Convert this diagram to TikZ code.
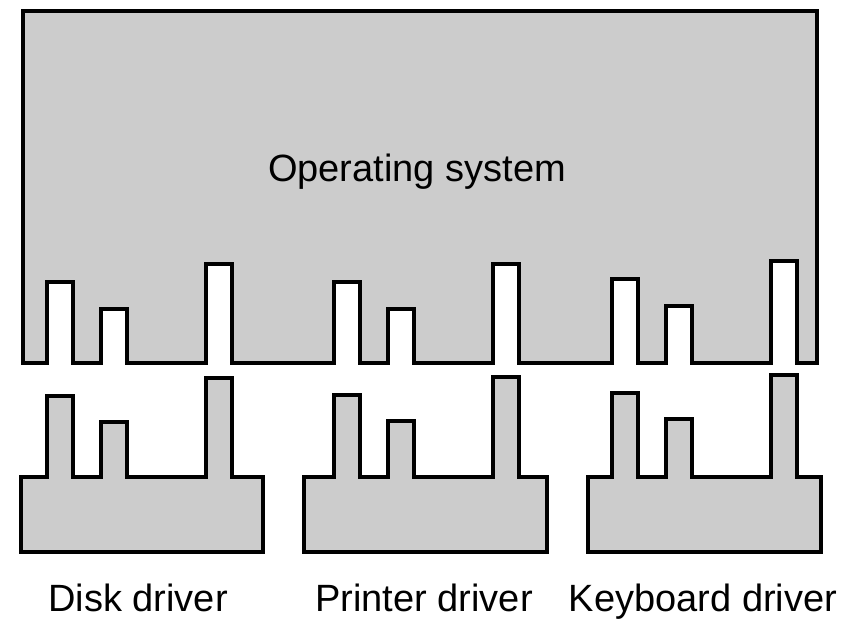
\documentclass[tikz,border=0pt]{standalone}
\usepackage{fontspec}
\setmainfont{Liberation Sans}
\definecolor{partgray}{gray}{0.8}
\tikzset{part/.style={fill=partgray, draw=black, line width=1.6pt, line join=miter},
         lbl/.style={anchor=base, inner sep=0pt, font=\fontsize{19}{22}\selectfont}}

\begin{document}
\begin{tikzpicture}[x=0.5pt, y=-0.5pt]
     \useasboundingbox (0,0) rectangle (843,619);

     % operating system with three sets of slots
     \draw[part] (23,11) -- (23,363)
        \foreach \dx/\dy in {0/0, 287/0, 565/-3} {
          -- ({47+\dx},363) -- ({47+\dx},{282+\dy}) -- ({73+\dx},{282+\dy}) -- ({73+\dx},363)
          -- ({101+\dx},363) -- ({101+\dx},{309+\dy}) -- ({127+\dx},{309+\dy}) -- ({127+\dx},363)
          -- ({206+\dx},363) -- ({206+\dx},{264+\dy}) -- ({232+\dx},{264+\dy}) -- ({232+\dx},363)
        }
        -- (817,363) -- (817,11) -- cycle;
     \node[lbl] (os) at (417,182) {Operating system};

     % drivers that plug in underneath
     \foreach \dx/\dy/\l/\r/\c/\name/\txt in {0/0/21/263/138/disk/Disk driver,
                                             287/-1/304/547/424/printer/Printer driver,
                                             565/-3/588/821/703/keyboard/Keyboard driver} {
       \draw[part] (\l,552) -- (\l,477)
          -- ({47+\dx},477) -- ({47+\dx},{396+\dy}) -- ({73+\dx},{396+\dy}) -- ({73+\dx},477)
          -- ({101+\dx},477) -- ({101+\dx},{422+\dy}) -- ({127+\dx},{422+\dy}) -- ({127+\dx},477)
          -- ({206+\dx},477) -- ({206+\dx},{378+\dy}) -- ({232+\dx},{378+\dy}) -- ({232+\dx},477)
          -- (\r,477) -- (\r,552) -- cycle;
       \node[lbl] (\name) at (\c,612) {\txt};
     }
    \end{tikzpicture}
\end{document}
